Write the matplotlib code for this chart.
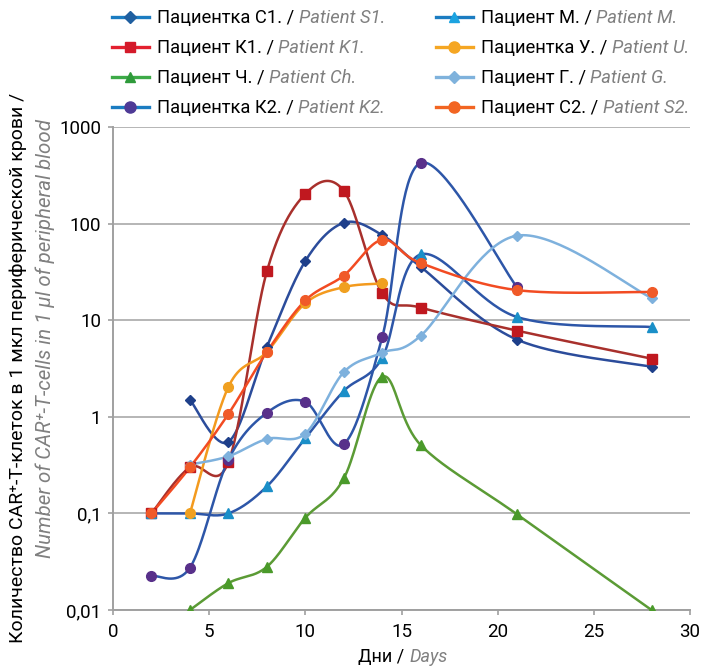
import numpy as np
import matplotlib
matplotlib.use('Agg')
import matplotlib.pyplot as plt
from matplotlib.lines import Line2D

plt.rcParams['font.family'] = ['Roboto', 'DejaVu Sans']

# ---------------- data ----------------
days_s1 = [4, 6, 8, 10, 12, 14, 16, 21, 28]
vals_s1 = [1.5, 0.55, 5.3, 41, 102, 76, 35.6, 6.3, 3.3]
days_k1 = [2, 4, 6, 8, 10, 12, 14, 16, 21, 28]
vals_k1 = [0.1, 0.3, 0.34, 32, 203, 218, 19, 13.5, 7.8, 4.0]
days_ch = [4, 6, 8, 10, 12, 14, 16, 21, 28]
vals_ch = [0.01, 0.019, 0.028, 0.09, 0.23, 2.6, 0.51, 0.098, 0.01]
days_k2 = [2, 4, 6, 8, 10, 12, 14, 16, 21]
vals_k2 = [0.0226, 0.0274, 0.36, 1.1, 1.43, 0.52, 6.7, 426, 22]
days_m = [2, 4, 6, 8, 10, 12, 14, 16, 21, 28]
vals_m = [0.1, 0.1, 0.1, 0.19, 0.6, 1.85, 4.1, 48, 10.8, 8.5]
days_u = [4, 6, 8, 10, 12, 14]
vals_u = [0.1, 2.04, 4.7, 15, 22, 24]
days_g = [4, 6, 8, 10, 12, 14, 16, 21, 28]
vals_g = [0.32, 0.39, 0.59, 0.67, 2.9, 4.6, 6.9, 75, 17]
days_s2 = [2, 4, 6, 8, 10, 12, 14, 16, 21, 28]
vals_s2 = [0.1, 0.3, 1.07, 4.7, 16, 29, 68, 39, 20.5, 19.6]

labels_ru = ["Пациентка С1. /", "Пациент К1. /", "Пациент Ч. /", "Пациентка К2. /",
             "Пациент М. /", "Пациентка У. /", "Пациент Г. /", "Пациент С2. /"]
labels_en = ["Patient S1.", "Patient K1.", "Patient Ch.", "Patient K2.",
             "Patient M.", "Patient U.", "Patient G.", "Patient S2."]

yticks = [0.01, 0.1, 1, 10, 100, 1000]
ytick_labels = ["0,01", "0,1", "1", "10", "100", "1000"]
xticks = [0, 5, 10, 15, 20, 25, 30]

series = [(days_s1, vals_s1), (days_k1, vals_k1), (days_ch, vals_ch), (days_k2, vals_k2),
          (days_m, vals_m), (days_u, vals_u), (days_g, vals_g), (days_s2, vals_s2)]

# styles: (line colour, marker colour, marker, marker size)
plot_styles = [("#2B4C9B", "#1E3F8A", "D", 5.5),
               ("#A8302C", "#C0181F", "s", 6.5),
               ("#5B9B35", "#4A9A2A", "^", 6.5),
               ("#2D56A8", "#58308A", "o", 7),
               ("#2D56A8", "#1A8FC8", "^", 6.5),
               ("#F39A1E", "#F0A020", "o", 7),
               ("#7EB1DD", "#7EB1DD", "D", 5.5),
               ("#F24B22", "#F05A28", "o", 7)]
legend_styles = [("#1B7CC1", "#1F5FA0"), ("#E3202F", "#D41A2A"), ("#3DAA48", "#2E9A3A"),
                 ("#1B7CC1", "#4E3A96"), ("#1B7CC1", "#1BA3E0"), ("#F5A623", "#F5A623"),
                 ("#7FB2DC", "#7FB2DC"), ("#F26522", "#F26522")]

GRAY = "#808080"
FS_LEG = 13.2
FS_TICK = 13.5
FS_YL = 14.0
FS_YL2 = 14.8
FS_XL = 13.0


def smooth(xs, ys, n=40):
    """Excel-like smoothed line (Bezier through points) in (x, log y) space."""
    P = np.column_stack([np.asarray(xs, float), np.log10(ys)])
    out = []
    for i in range(len(P) - 1):
        p0 = P[i - 1] if i > 0 else P[i]
        p1, p2 = P[i], P[i + 1]
        p3 = P[i + 2] if i + 2 < len(P) else P[i + 1]
        c1 = p1 + (p2 - p0) / 6
        c2 = p2 - (p3 - p1) / 6
        t = np.linspace(0, 1, n)[:, None]
        seg = (1 - t) ** 3 * p1 + 3 * (1 - t) ** 2 * t * c1 + 3 * (1 - t) * t ** 2 * c2 + t ** 3 * p2
        out.append(seg if i == 0 else seg[1:])
    S = np.vstack(out)
    return S[:, 0], 10 ** S[:, 1]


W, H = 702, 667
fig = plt.figure(figsize=(W / 100, H / 100), dpi=100)
ax = fig.add_axes([113 / W, 1 - 610 / H, (690 - 113) / W, (610 - 127) / H])

for (xs, ys), (lc, mc, mk, ms) in zip(series, plot_styles):
    sx, sy = smooth(xs, ys)
    ax.plot(sx, sy, color=lc, lw=1.8, zorder=3, solid_capstyle='round')
    ax.plot(xs, ys, ls='none', marker=mk, color=mc, markersize=ms, zorder=4)

ax.set_yscale('log')
ax.set_ylim(0.01, 1000)
ax.set_xlim(0, 30)
ax.set_yticks(yticks)
ax.set_yticklabels(ytick_labels)
ax.set_xticks(xticks)
ax.yaxis.set_minor_locator(matplotlib.ticker.NullLocator())
ax.grid(axis='y', color='#B5B5B5', lw=1.4, zorder=0)
ax.grid(axis='x', visible=False)
for s in ['top', 'right']:
    ax.spines[s].set_visible(False)
for s in ['left', 'bottom']:
    ax.spines[s].set_color('#A0A0A0')
    ax.spines[s].set_linewidth(1.4)
ax.tick_params(axis='both', colors='#A0A0A0', length=3.5, width=1.2, labelcolor='black',
               labelsize=FS_TICK)
ax.tick_params(axis='y', pad=5)
ax.tick_params(axis='x', pad=6)

# ---------------- legend (two columns) ----------------
handles = [Line2D([], [], color=lc, lw=2.4, marker=ps[2], markersize=ps[3] + 1.0,
                  markerfacecolor=mc, markeredgecolor=mc)
           for (lc, mc), ps in zip(legend_styles, plot_styles)]
leg_kw = dict(frameon=False, fontsize=FS_LEG, handlelength=2.0, handletextpad=0.45,
              labelspacing=0.66, borderpad=0, borderaxespad=0, loc='upper left')
leg1 = fig.legend(handles[:4], labels_ru[:4], bbox_to_anchor=(112 / W, 1 - 9 / H), **leg_kw)
leg2 = fig.legend(handles[4:], labels_ru[4:], bbox_to_anchor=(436 / W, 1 - 9 / H), **leg_kw)

for leg, tails in ((leg1, labels_en[:4]), (leg2, labels_en[4:])):
    for txt, tail in zip(leg.get_texts(), tails):
        fig.texts.append(matplotlib.text.Annotation(
            tail, xy=(1, 0), xycoords=txt, xytext=(3.2, 0), textcoords='offset points',
            ha='left', va='bottom', color=GRAY, fontstyle='italic', fontsize=FS_LEG,
            zorder=10, annotation_clip=False))
        fig.texts[-1].set_figure(fig)

# ---------------- axis titles ----------------
fig.text(18 / W, 1 - 368 / H, "Количество CAR⁺-Т-клеток в 1 мкл периферической крови /",
         rotation=90, ha='center', va='center', fontsize=FS_YL, color='black')
fig.text(45 / W, 1 - 339 / H, "Number of CAR⁺-T-cells in 1 µl of peripheral blood",
         rotation=90, ha='center', va='center', fontsize=FS_YL2, color=GRAY, fontstyle='italic')

xl = fig.text(358 / W, 1 - 657 / H, "Дни /", ha='left', va='center', fontsize=FS_XL, color='black')
fig.texts.append(matplotlib.text.Annotation(
    "Days", xy=(1, 0), xycoords=xl, xytext=(3.5, 0), textcoords='offset points',
    ha='left', va='bottom', color=GRAY, fontstyle='italic', fontsize=FS_XL, zorder=10,
    annotation_clip=False))
fig.texts[-1].set_figure(fig)

fig.canvas.draw()
fig.savefig('out.png', dpi=100)
